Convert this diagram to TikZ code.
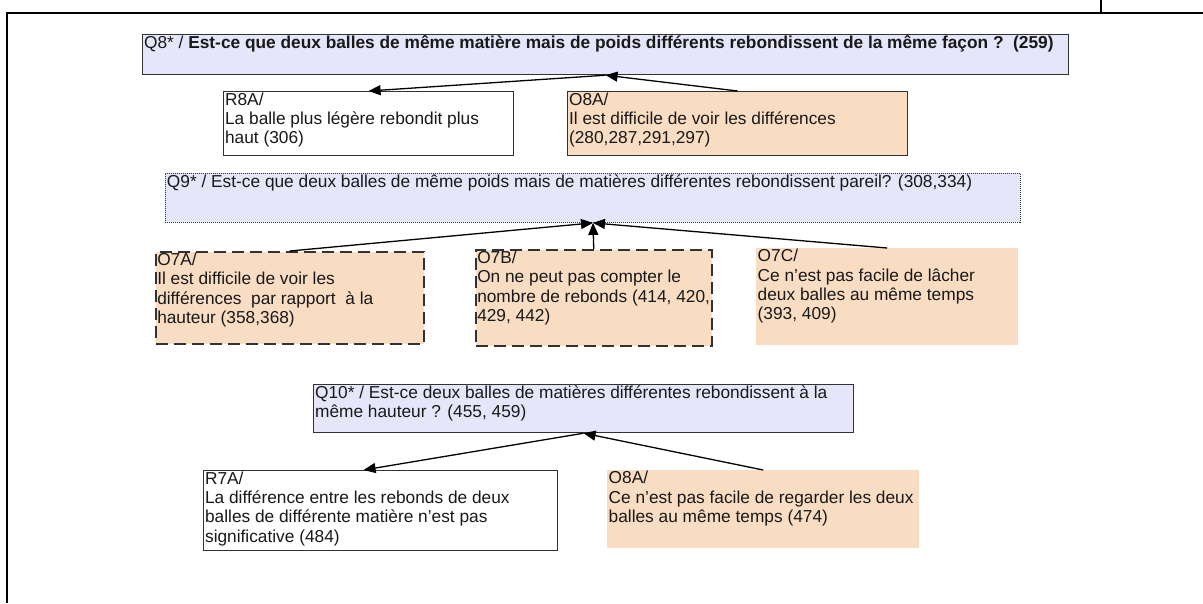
\documentclass[tikz,border=0pt]{standalone}
\usepackage{fontspec}
\setmainfont{Liberation Sans}
\usetikzlibrary{arrows.meta}
\definecolor{quest}{RGB}{230,230,250}
\definecolor{obst}{RGB}{249,221,195}
\definecolor{edge}{RGB}{50,50,50}
% text of a box: width, height, lines
\newcommand{\cell}[3]{\parbox[t][#2pt][t]{#1pt}{\raggedright #3}}

\begin{document}
\begin{tikzpicture}[x=1pt, y=-1pt,
  every node/.style={font=\fontsize{17.3}{19.4}\selectfont, text=black!90, anchor=north west, inner xsep=1.5pt, inner ysep=1pt},
  qbox/.style={draw=edge, fill=quest, line width=1.2pt},
  qdot/.style={draw=edge, fill=quest, line width=0.9pt, dash pattern=on 1pt off 1pt},
  rbox/.style={draw=edge, fill=white, line width=1.2pt},
  obox/.style={draw=edge, fill=obst, line width=1.2pt},
  odash/.style={draw=edge, fill=obst, line width=1.5pt, dash pattern=on 12pt off 6pt},
  oplain/.style={fill=obst},
  arr/.style={-{Triangle[length=12pt,width=10pt]}, line width=1.3pt}]
  \useasboundingbox (0,0) rectangle (1203,603);
  % frame
  \draw[line width=1.5pt] (7,603) -- (7,13) -- (1203,13);
  \draw[line width=1.5pt] (1101,0) -- (1101,13);

  % Q8
  \node[qbox] (q8) at (142,34) {\cell{923}{38}{Q8* / \textbf{Est-ce que deux balles de même matière mais de poids différents rebondissent de la même façon ?\ \ (259)}}};
  \node[rbox] (r8a) at (223,91) {\cell{287}{62}{R8A/\\La balle plus légère rebondit plus\\haut (306)}};
  \node[obox] (o8a) at (567,91) {\cell{337}{62}{O8A/\\Il est difficile de voir les différences\\(280,287,291,297)}};
  \draw[arr] (o8a.north) -- (q8.south);
  \draw[arr] (q8.south) -- (r8a.north);

  % Q9
  \node[qdot] (q9) at (165,173) {\cell{852}{47}{Q9* / Est-ce que deux balles de même poids mais de matières différentes rebondissent pareil? (308,334)}};
  \node[odash] (o7a) at (155,251) {\cell{265}{90}{O7A/\\Il est difficile de voir les\\différences\ \ par rapport\ \ à la\\hauteur (358,368)}};
  \node[odash] (o7b) at (475,249) {\cell{233}{94}{O7B/\\On ne peut pas compter le\\nombre de rebonds (414, 420,\\429, 442)}};
  \node[oplain] (o7c) at (756,248) {\cell{259}{95}{O7C/\\Ce n’est pas facile de lâcher\\deux balles au même temps\\(393, 409)}};
  \foreach \o in {o7a,o7b,o7c}
    \draw[arr] (\o.north) -- (q9.south);

  % Q10
  \node[qbox] (q10) at (313,384) {\cell{537}{46}{Q10* / Est-ce deux balles de matières différentes rebondissent à la\\même hauteur ? (455, 459)}};
  \node[rbox] (r7a) at (203,470) {\cell{351}{78}{R7A/\\La différence entre les rebonds de deux\\balles de différente matière n’est pas\\significative (484)}};
  \node[oplain] (o8b) at (607,470) {\cell{309}{76}{O8A/\\Ce n’est pas facile de regarder les deux\\balles au même temps (474)}};
  \draw[arr] (o8b.north) -- (q10.south);
  \draw[arr] (q10.south) -- ([xshift=-17pt]r7a.north);
\end{tikzpicture}
\end{document}
